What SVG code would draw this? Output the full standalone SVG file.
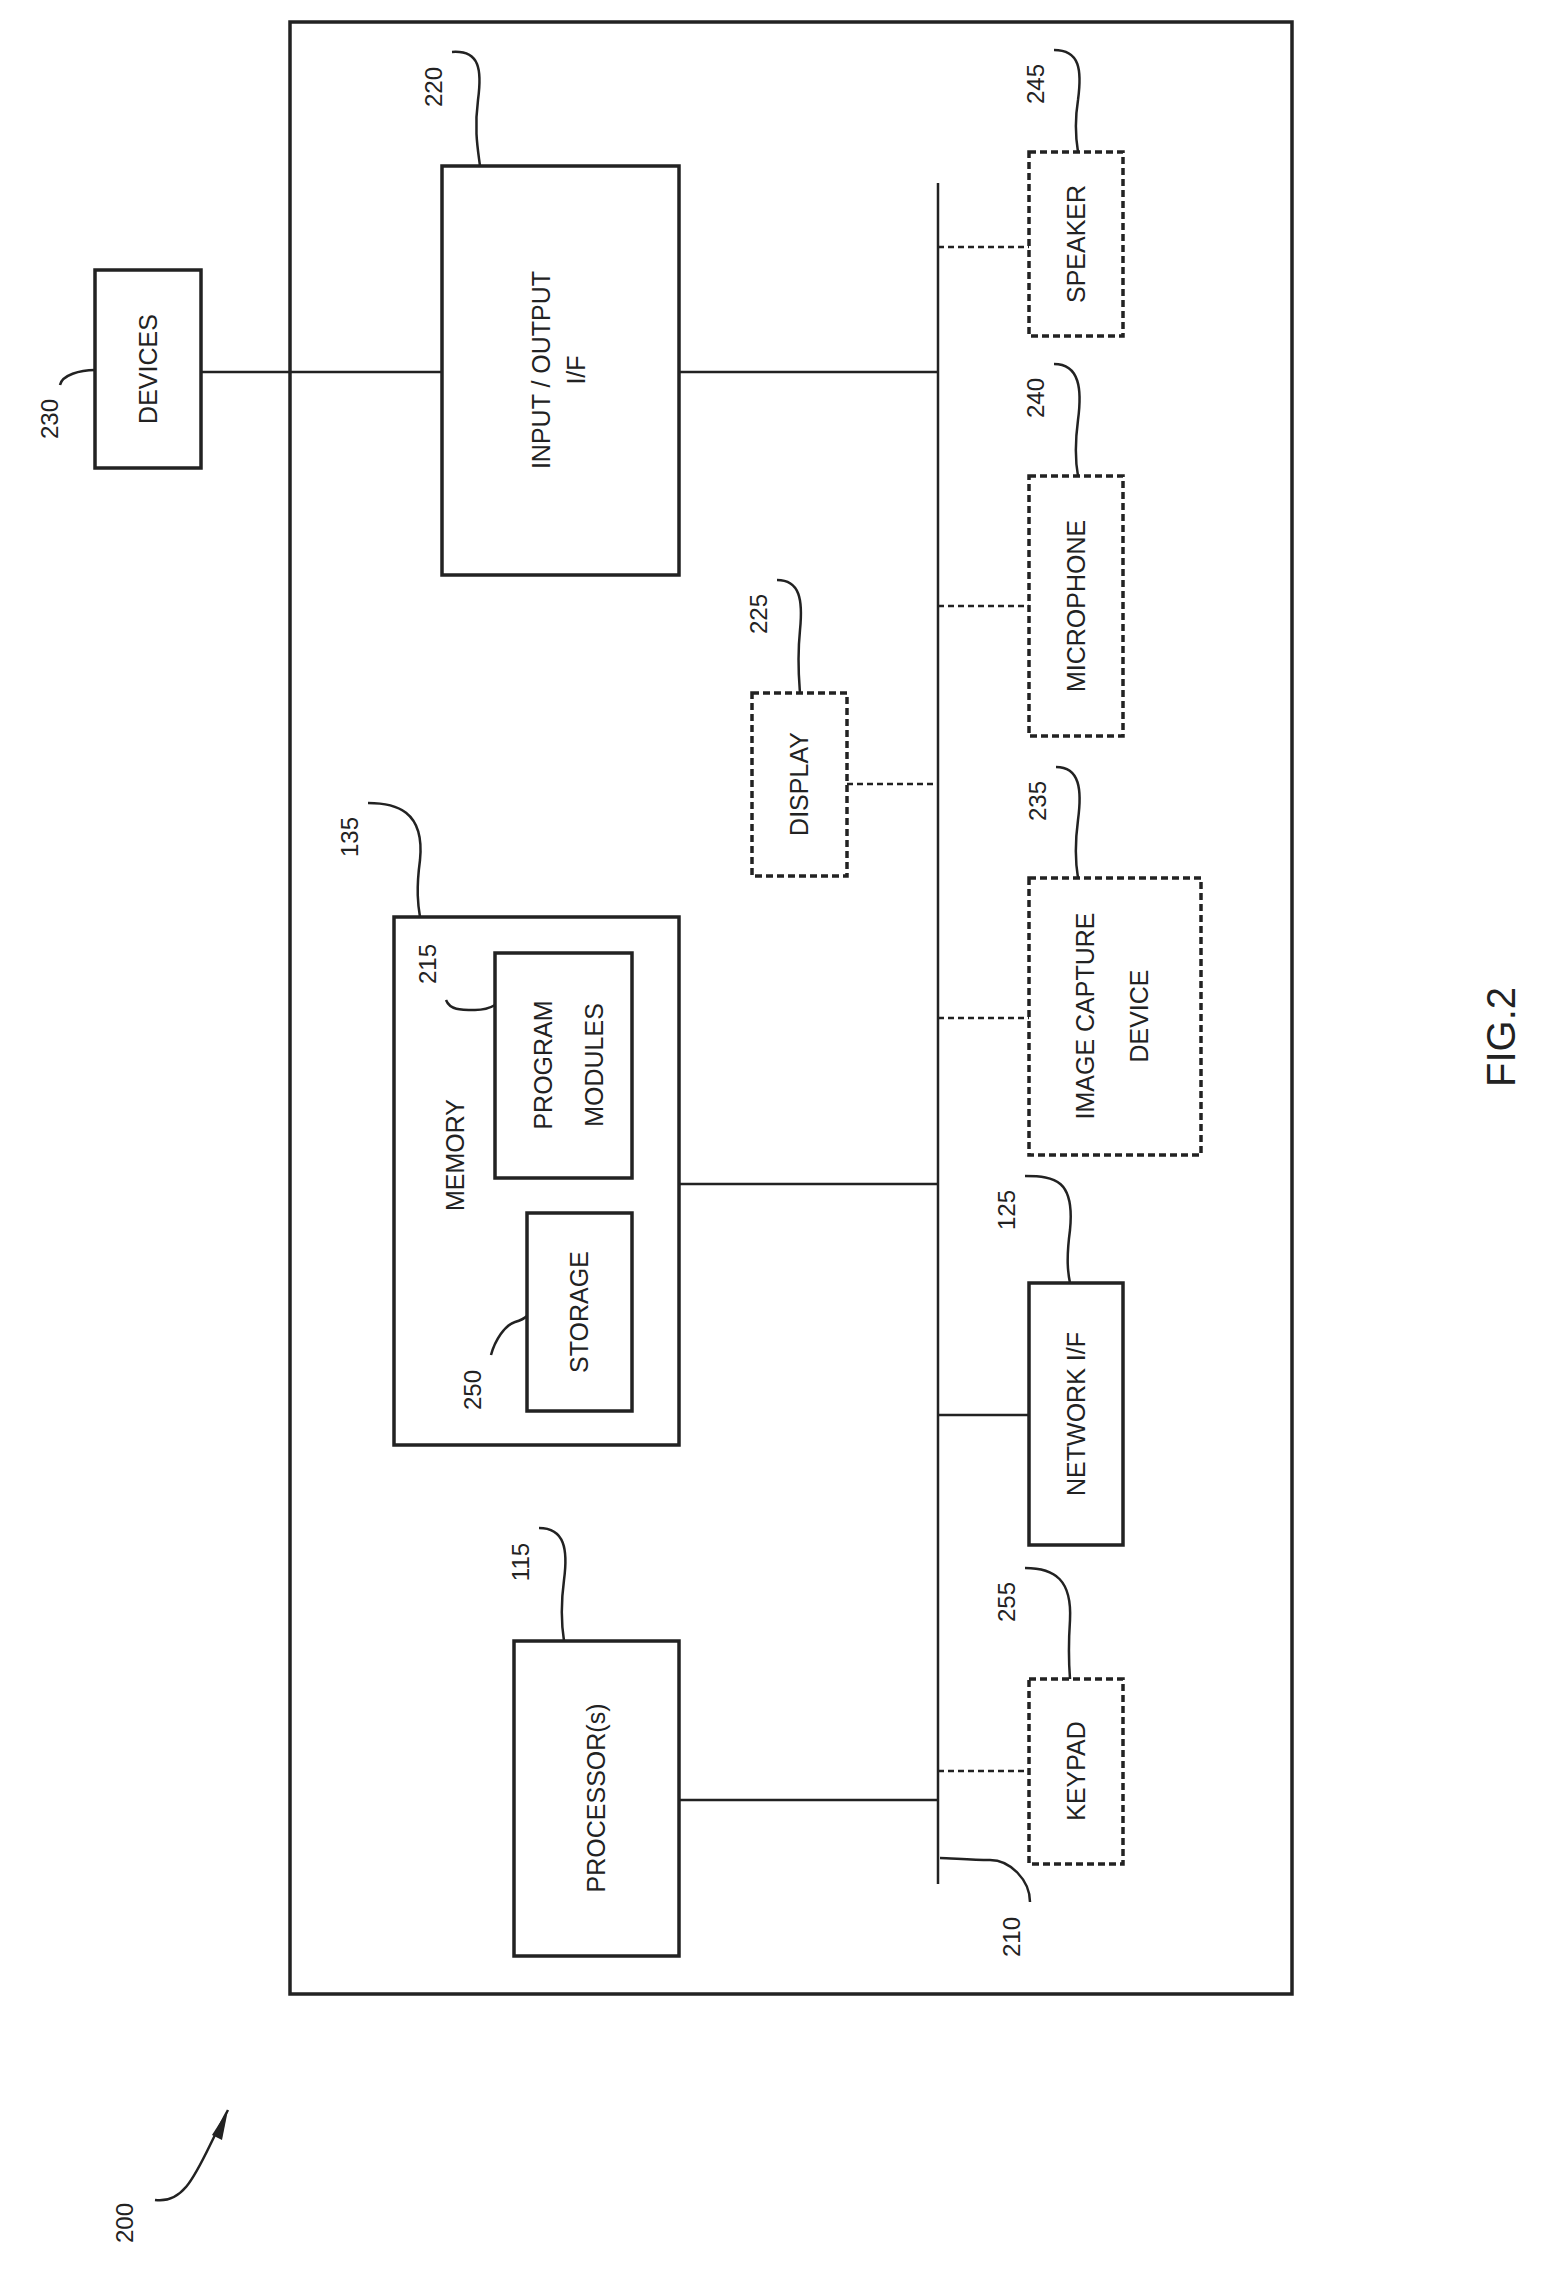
<svg xmlns="http://www.w3.org/2000/svg" width="1552" height="2273" viewBox="0 0 1552 2273">
<style>
.b{fill:none;stroke:#222;stroke-width:3.5}
.d{fill:none;stroke:#222;stroke-width:3.5;stroke-dasharray:7 4}
.l{fill:none;stroke:#222;stroke-width:2.5}
.ld{fill:none;stroke:#222;stroke-width:2.5;stroke-dasharray:6 4}
text{font-family:"Liberation Sans",Arial,sans-serif;font-size:25px;fill:#222;text-anchor:middle}
.n{font-size:24px}
</style>
<rect width="1552" height="2273" fill="#fff"/>
<rect class="b" x="290" y="22" width="1002" height="1972"/>
<g id="connectors">
<line class="l" x1="938" y1="183" x2="938" y2="1884"/>
<line class="l" x1="201" y1="372" x2="442" y2="372"/>
<line class="l" x1="679" y1="372" x2="938" y2="372"/>
<line class="ld" x1="938" y1="247" x2="1029" y2="247"/>
<line class="ld" x1="938" y1="606" x2="1029" y2="606"/>
<line class="ld" x1="847" y1="784" x2="938" y2="784"/>
<line class="ld" x1="938" y1="1018" x2="1029" y2="1018"/>
<line class="l" x1="679" y1="1184" x2="938" y2="1184"/>
<line class="l" x1="938" y1="1415" x2="1029" y2="1415"/>
<line class="ld" x1="938" y1="1771" x2="1029" y2="1771"/>
<line class="l" x1="679" y1="1800" x2="938" y2="1800"/>
</g>
<g id="devices"><rect class="b" x="95" y="270" width="106" height="198"/><text transform="translate(157 369) rotate(-90)">DEVICES</text></g>
<g id="io"><rect class="b" x="442" y="166" width="237" height="409"/><text transform="translate(550 370) rotate(-90)">INPUT / OUTPUT</text><text transform="translate(585 370) rotate(-90)">I/F</text></g>
<g id="speaker"><rect class="d" x="1029" y="152" width="94" height="184"/><text transform="translate(1085 244) rotate(-90)">SPEAKER</text></g>
<g id="microphone"><rect class="d" x="1029" y="476" width="94" height="260"/><text transform="translate(1085 606) rotate(-90)">MICROPHONE</text></g>
<g id="display"><rect class="d" x="752" y="693" width="95" height="183"/><text transform="translate(808 784) rotate(-90)">DISPLAY</text></g>
<g id="imagecapture"><rect class="d" x="1029" y="878" width="172" height="277"/><text transform="translate(1094 1016) rotate(-90)">IMAGE CAPTURE</text><text transform="translate(1148 1016) rotate(-90)">DEVICE</text></g>
<g id="network"><rect class="b" x="1029" y="1283" width="94" height="262"/><text transform="translate(1085 1414) rotate(-90)">NETWORK I/F</text></g>
<g id="keypad"><rect class="d" x="1029" y="1679" width="94" height="185"/><text transform="translate(1085 1771) rotate(-90)">KEYPAD</text></g>
<g id="memory"><rect class="b" x="394" y="917" width="285" height="528"/><text transform="translate(464 1155) rotate(-90)">MEMORY</text></g>
<g id="programmodules"><rect class="b" x="495" y="953" width="137" height="225"/><text transform="translate(552 1065) rotate(-90)">PROGRAM</text><text transform="translate(603 1065) rotate(-90)">MODULES</text></g>
<g id="storage"><rect class="b" x="527" y="1213" width="105" height="198"/><text transform="translate(588 1312) rotate(-90)">STORAGE</text></g>
<g id="processor"><rect class="b" x="514" y="1641" width="165" height="315"/><text transform="translate(605 1798) rotate(-90)">PROCESSOR(s)</text></g>
<g id="labels">
<text class="n" transform="translate(442 87) rotate(-90)">220</text><path class="l" d="M452 52 C480 50 482 70 478 100 C474 130 478 150 480 166"/>
<text class="n" transform="translate(1044 84) rotate(-90)">245</text><path class="l" d="M1054 50 C1080 50 1082 70 1078 100 C1074 125 1076 140 1078 152"/>
<text class="n" transform="translate(1044 398) rotate(-90)">240</text><path class="l" d="M1054 364 C1080 364 1082 390 1078 420 C1074 450 1076 465 1078 476"/>
<text class="n" transform="translate(767 614) rotate(-90)">225</text><path class="l" d="M777 580 C800 580 803 600 800 630 C797 660 799 680 800 693"/>
<text class="n" transform="translate(1046 801) rotate(-90)">235</text><path class="l" d="M1056 767 C1080 767 1082 790 1078 820 C1074 850 1076 866 1078 878"/>
<text class="n" transform="translate(358 837) rotate(-90)">135</text><path class="l" d="M368 803 C395 803 425 810 420 860 C416 890 418 905 420 917"/>
<text class="n" transform="translate(436 964) rotate(-90)">215</text><path class="l" d="M446 1000 C450 1010 460 1010 475 1010 C485 1010 490 1008 495 1005"/>
<text class="n" transform="translate(1015 1210) rotate(-90)">125</text><path class="l" d="M1025 1176 C1055 1176 1075 1180 1070 1230 C1066 1260 1068 1273 1070 1283"/>
<text class="n" transform="translate(481 1390) rotate(-90)">250</text><path class="l" d="M491 1355 C495 1340 505 1325 515 1322 C522 1320 525 1318 527 1316"/>
<text class="n" transform="translate(529 1562) rotate(-90)">115</text><path class="l" d="M539 1528 C565 1528 568 1550 564 1580 C560 1610 562 1628 564 1641"/>
<text class="n" transform="translate(1015 1602) rotate(-90)">255</text><path class="l" d="M1025 1568 C1055 1568 1072 1580 1070 1620 C1068 1650 1069 1666 1070 1679"/>
<text class="n" transform="translate(1020 1937) rotate(-90)">210</text><path class="l" d="M1030 1902 C1030 1880 1010 1860 990 1860 C970 1860 950 1858 940 1858"/>
<text class="n" transform="translate(58 419) rotate(-90)">230</text><path class="l" d="M60 385 C62 375 80 370 95 370"/>
<text class="n" transform="translate(133 2223) rotate(-90)">200</text><path class="l" d="M155 2200 C190 2205 200 2160 228 2110"/><path d="M228 2110 L212 2135 L222 2140 Z" fill="#222"/>
<text transform="translate(1515 1037) rotate(-90)" style="font-size:40px">FIG.2</text>
</g>
</svg>
